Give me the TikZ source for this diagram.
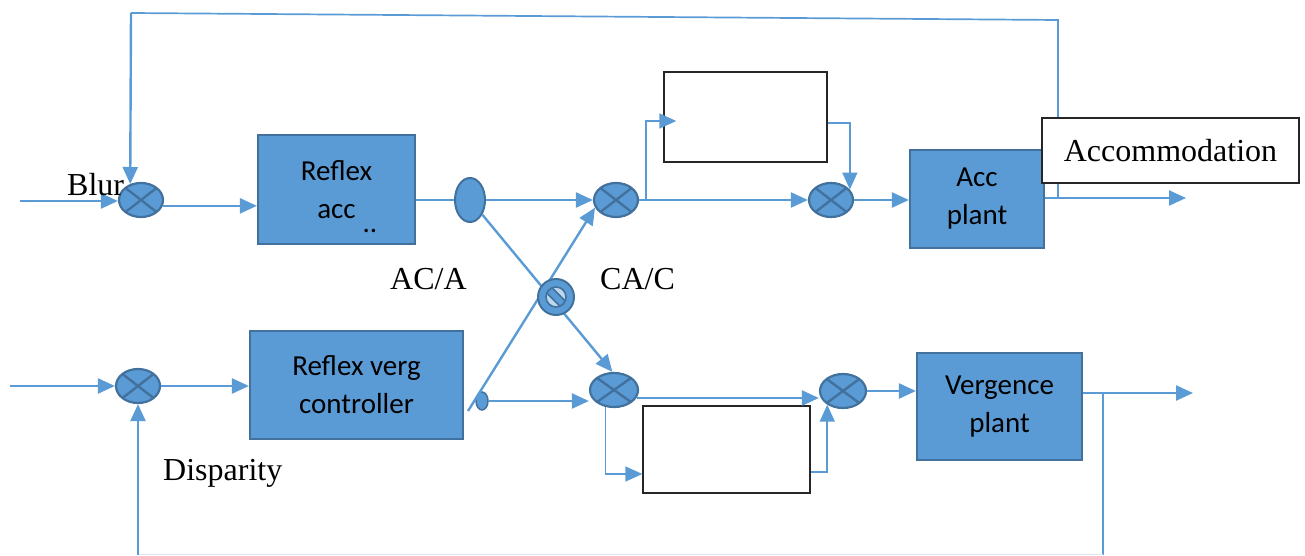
\documentclass[tikz,border=0pt]{standalone}
\usepackage{fontspec}
\setmainfont{Liberation Serif}
\newfontfamily\boxfont{Carlito}
\usetikzlibrary{arrows.meta,shapes.geometric,calc}
\definecolor{myblue}{HTML}{5B9BD5}
\definecolor{dkblue}{HTML}{41719C}
\definecolor{faint}{HTML}{DDE6F0}
\begin{document}
\begin{tikzpicture}[x=1pt,y=-1pt,
  blk/.style={draw=dkblue, fill=myblue, line width=2.2pt, align=center, font=\boxfont\fontsize{29}{38}\selectfont, inner sep=0pt},
  wbox/.style={draw=black!85, fill=white, line width=1.4pt, inner sep=0pt},
  sumj/.style={ellipse, draw=dkblue, fill=myblue, line width=2.2pt, minimum width=44pt, minimum height=34pt, inner sep=0pt,
    path picture={\draw[dkblue,line width=2.4pt] (path picture bounding box.north west) -- (path picture bounding box.south east) (path picture bounding box.south west) -- (path picture bounding box.north east);}},
  conn/.style={draw=myblue, line width=2.4pt},
  arr/.style={conn, -{Triangle[length=17pt,width=15pt]}},
  thinconn/.style={draw=myblue, line width=1.7pt},
  thinarr/.style={thinconn, -{Triangle[length=17pt,width=15pt]}},
  lbl/.style={font=\fontsize{32}{38}\selectfont, inner sep=0pt}
]
\useasboundingbox (0,0) rectangle (1305,556);

% blocks and junctions
\node[sumj] (sumA) at (141,200) {};
\node[blk, minimum width=157pt, minimum height=109pt] (racc) at (336.5,189.5) {Reflex\\acc};
\node[font=\boxfont\fontsize{29}{38}\selectfont, inner sep=0pt, anchor=base] (dots) at (370,232) {..};
\node[ellipse, draw=dkblue, fill=myblue, line width=2pt, minimum width=30pt, minimum height=44pt, inner sep=0pt] (split) at (470,200) {};
\node[sumj] (sumB) at (616,200) {};
\node[sumj] (sumC) at (831,200) {};
\node[blk, minimum width=134pt, minimum height=98pt] (accp) at (977,199) {Acc\\plant};
\node[wbox, minimum width=163pt, minimum height=90pt] (topbox) at (745.5,117) {};
\node[sumj] (sumD) at (138,386) {};
\node[blk, minimum width=213pt, minimum height=108pt] (rverg) at (356.5,385) {Reflex verg\\controller};
\node[ellipse, draw=dkblue, fill=myblue, line width=1.5pt, minimum width=12pt, minimum height=18pt, inner sep=0pt] (sm) at (482,401) {};
\node[sumj, minimum width=48pt] (sumE) at (614,390) {};
\node[sumj, minimum width=46pt] (sumF) at (843,391) {};
\node[wbox, minimum width=167pt, minimum height=87pt] (botbox) at (726.5,449.5) {};
\node[blk, minimum width=165pt, minimum height=107pt] (vplant) at (999.5,406.5) {Vergence\\plant};

% free ends
\coordinate (inA) at (20,201);
\coordinate (outA) at (1186,198);
\coordinate (fbR) at (1058,198);
\coordinate (tR) at (1058,20);
\coordinate (tL) at (131,13);
\coordinate (inD) at (10,386);
\coordinate (outV) at (1193,393);
\coordinate (fbV) at (1103,393);
\coordinate (bR) at (1103,554.5);
\coordinate (bL) at (138,554.5);
\coordinate (d2s) at (468,411);

% connectors
\draw[arr] (inA) -- (inA -| sumA.west);
\draw[thinconn] (fbR) -- (tR) -- (tL);
\draw[arr] (tL) -- (sumA.124);
\draw[arr] (sumA.-15) -- (sumA.-15 -| racc.west);
\draw[conn] (racc.east |- split) -- (split.west);
\draw[arr] (split.east) -- (sumB.west);
\draw[arr] (split.-50) -- (sumE.95);
\draw[arr] (d2s) -- (sumB.200);
\draw[arr] (sm.east) -- (sm.east -| sumE.west);
\draw[arr] (sumB.east) -- (sumC.west);
\draw[thinarr] ($(sumB.east)+(7,0)$) |- ($(topbox.west)+(13,4)$);
\draw[thinarr] ($(topbox.east)+(0,6)$) -| (sumC.29);
\draw[arr] (sumC.east) -- (sumC.east -| accp.west);
\draw[arr] (accp.east |- outA) -- (outA);
\draw[arr] (inD) -- (sumD.west);
\draw[arr] (sumD.east) -- (sumD.east -| rverg.west);
\draw[thinconn] (fbV) -- (bR);
\draw[draw=faint, line width=1.5pt] (bR) -- (bL);
\draw[arr] (bL) -- (sumD.south);
\draw[arr] ($(sumE.east)+(-2,8)$) -- ($(sumF.west)+(0,7)$);
\draw[thinarr] (sumE.-117) |- ($(botbox.west)+(0,24.5)$);
\draw[thinarr] ($(botbox.east)+(0,22.5)$) -| (sumF.-139);
\draw[arr] (sumF.east) -- (sumF.east -| vplant.west);
\draw[arr] (vplant.east |- outV) -- (outV);

% division symbol
\node[circle, draw=dkblue, fill=myblue, line width=2pt, minimum size=36pt, inner sep=0pt] (div) at (556,297) {};
\begin{scope}
\clip (div.center) circle[radius=10pt];
\fill[white, fill opacity=0.6] (div.center) circle[radius=10pt];
\draw[dkblue, line width=9pt] ($(div.center)+(-11,-11)$) -- ($(div.center)+(11,11)$);
\draw[myblue, line width=5.5pt] ($(div.center)+(-11,-11)$) -- ($(div.center)+(11,11)$);
\end{scope}
\draw[dkblue, line width=1.6pt] (div.center) circle[radius=10pt];

% output label box
\node[wbox, lbl, minimum width=257pt, minimum height=65pt] (accom) at (1170.5,150.5) {Accommodation};

% labels
\node[lbl, anchor=base west] (blur) at (67,196) {Blur};
\node[lbl, anchor=base west] (disp) at (163,480) {Disparity};
\node[lbl, anchor=base west] (aca) at (390,289) {AC/A};
\node[lbl, anchor=base west] (cac) at (600,289) {CA/C};
\end{tikzpicture}
\end{document}
